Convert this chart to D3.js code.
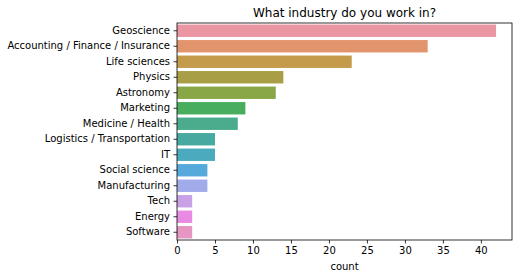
<!DOCTYPE html>
<html><head><meta charset="utf-8">
<script src="https://cdn.jsdelivr.net/npm/d3@7"></script>
<style>body{margin:0;background:#fff}svg{display:block}text{font-family:"DejaVu Sans",sans-serif;fill:#000}</style>
</head><body><svg id="c" width="518" height="278"></svg>
<script>
const categories = ["Geoscience","Accounting / Finance / Insurance","Life sciences","Physics","Astronomy","Marketing","Medicine / Health","Logistics / Transportation","IT","Social science","Manufacturing","Tech","Energy","Software"];
const counts = [42,33,23,14,13,9,8,5,5,4,4,2,2,2];
const colors = ["#ea96a3","#e2956c","#c39b4b","#a79e45","#8aa748","#48ae5e","#4aac8c","#48a9a1","#4baabd","#55aadb","#a2abea","#c8a1e6","#e88be4","#e795c3"];
const xTicks = [0,5,10,15,20,25,30,35,40];

const svg = d3.select("#c");
const m = {l:177, r:512, t:23, b:240};
const x = d3.scaleLinear().domain([0, d3.max(counts)*1.05]).range([m.l, m.r]);
const y = d3.scaleBand().domain(categories).range([m.t, m.b]).paddingInner(0.2).paddingOuter(0.1);

svg.selectAll("rect.bar").data(categories).join("rect").attr("class","bar")
  .attr("x", x(0)).attr("y", d => y(d))
  .attr("width", (d,i) => x(counts[i]) - x(0)).attr("height", y.bandwidth())
  .attr("fill", (d,i) => colors[i]);

const xa = svg.append("g").attr("transform",`translate(0,${m.b})`)
  .call(d3.axisBottom(x).tickValues(xTicks).tickSize(3.5).tickPadding(3.5));
const ya = svg.append("g").attr("transform",`translate(${m.l},0)`)
  .call(d3.axisLeft(y).tickSize(3.5).tickPadding(3.5));
[xa, ya].forEach(g => {
  g.select(".domain").remove();
  g.selectAll("text").attr("font-size","10px").attr("font-family","DejaVu Sans").attr("fill","#000");
  g.selectAll("line").attr("stroke","#000").attr("stroke-width",0.8);
});
svg.append("rect").attr("x",m.l).attr("y",m.t).attr("width",m.r-m.l).attr("height",m.b-m.t)
  .attr("fill","none").attr("stroke","#000").attr("stroke-width",0.8);

svg.append("text").attr("x",(m.l+m.r)/2).attr("y",17).attr("text-anchor","middle")
  .attr("font-size","12px").text("What industry do you work in?");
svg.append("text").attr("x",(m.l+m.r)/2).attr("y",270).attr("text-anchor","middle")
  .attr("font-size","10px").text("count");
</script></body></html>
